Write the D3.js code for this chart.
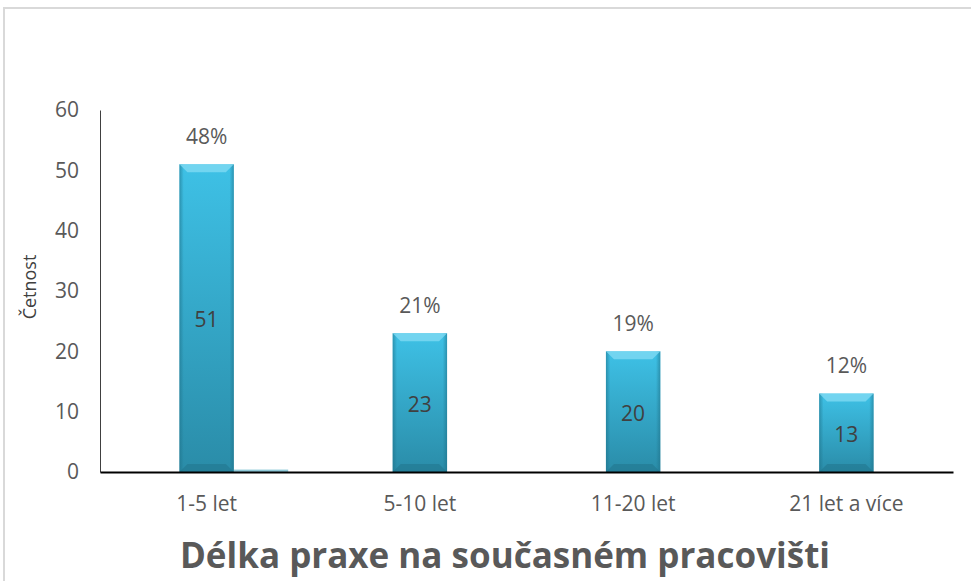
<!DOCTYPE html>
<html>
<head>
<meta charset="utf-8">
<script src="https://cdn.jsdelivr.net/npm/d3@7"></script>
<style>
  body { margin: 0; background: #fff; }
  svg text { font-family: "Open Sans", "Noto Sans", sans-serif; }
</style>
</head>
<body>
<svg id="chart" width="971" height="581"></svg>
<script>
const categories = ["1-5 let", "5-10 let", "11-20 let", "21 let a více"];
const counts = [51, 23, 20, 13];
const shares = ["48%", "21%", "19%", "12%"];
const secondSeries = [0.4, 0, 0, 0];
const yTicks = [0, 10, 20, 30, 40, 50, 60];

const margin = { top: 110, right: 18, bottom: 109, left: 100 };
const width = 971 - margin.left - margin.right;
const height = 581 - margin.top - margin.bottom;

const svg = d3.select("#chart");

// outer frame (only top/left visible in the crop)
svg.append("rect")
  .attr("x", 4).attr("y", 8)
  .attr("width", 1000).attr("height", 700)
  .attr("fill", "none")
  .attr("stroke", "#d9d9d9")
  .attr("stroke-width", 2);

const defs = svg.append("defs");
const grad = defs.append("linearGradient")
  .attr("id", "barFill").attr("x1", 0).attr("y1", 0).attr("x2", 0).attr("y2", 1);
grad.append("stop").attr("offset", "0%").attr("stop-color", "#3ec1e6");
grad.append("stop").attr("offset", "100%").attr("stop-color", "#2a8ca8");

const sideGrad = defs.append("linearGradient")
  .attr("id", "sideFill").attr("x1", 0).attr("y1", 0).attr("x2", 1).attr("y2", 0);
sideGrad.append("stop").attr("offset", "0%").attr("stop-color", "#1d6f86").attr("stop-opacity", 0.55);
sideGrad.append("stop").attr("offset", "8%").attr("stop-color", "#1d6f86").attr("stop-opacity", 0);
sideGrad.append("stop").attr("offset", "92%").attr("stop-color", "#1d6f86").attr("stop-opacity", 0);
sideGrad.append("stop").attr("offset", "100%").attr("stop-color", "#1d6f86").attr("stop-opacity", 0.55);

const g = svg.append("g")
  .attr("transform", `translate(${margin.left},${margin.top})`);

const x = d3.scaleBand().domain(categories).range([0, width]).padding(0);
const y = d3.scaleLinear().domain([0, 60]).range([height, 0]);
const barW = x.bandwidth() * 0.255;
const bev = 8;

const data = categories.map((c, i) => ({ cat: c, v: counts[i], share: shares[i], extra: secondSeries[i] }));

// y axis
const yAxis = g.append("g")
  .call(d3.axisLeft(y).tickValues(yTicks).tickSize(0).tickPadding(21));
yAxis.select(".domain").attr("stroke", "#404040").attr("stroke-width", 1);
yAxis.selectAll("text")
  .attr("fill", "#595959")
  .style("font-size", "21px");

// second series (tiny bar)
g.selectAll(".extra")
  .data(data)
  .enter()
  .append("rect")
  .attr("class", "extra")
  .attr("x", d => x(d.cat) + x.bandwidth() / 2 + barW / 2)
  .attr("y", d => y(d.extra))
  .attr("width", barW)
  .attr("height", d => y(0) - y(d.extra))
  .attr("fill", "#8fc9d8");

const bars = g.selectAll(".bar")
  .data(data)
  .enter()
  .append("g")
  .attr("class", "bar")
  .attr("transform", d => `translate(${x(d.cat) + x.bandwidth() / 2 - barW / 2},${y(d.v)})`);

bars.append("rect")
  .attr("width", barW)
  .attr("height", d => y(0) - y(d.v))
  .attr("fill", "url(#barFill)");

bars.append("rect")
  .attr("width", barW)
  .attr("height", d => y(0) - y(d.v))
  .attr("fill", "url(#sideFill)");

// top bevel
bars.append("path")
  .attr("d", `M0,0 L${barW},0 L${barW - bev},${bev} L${bev},${bev} Z`)
  .attr("fill", "#7fd9f2")
  .attr("opacity", 0.8);

// bottom bevel
bars.append("path")
  .attr("d", d => {
    const h = y(0) - y(d.v);
    return `M0,${h} L${barW},${h} L${barW - bev},${h - bev} L${bev},${h - bev} Z`;
  })
  .attr("fill", "#1f6f85")
  .attr("opacity", 0.45);

// values inside bars
bars.append("text")
  .attr("x", barW / 2)
  .attr("y", d => (y(0) - y(d.v)) / 2 + 2)
  .attr("dy", "0.35em")
  .attr("text-anchor", "middle")
  .attr("fill", "#404040")
  .style("font-size", "21px")
  .text(d => d.v);

// percentage labels above bars
g.selectAll(".share")
  .data(data)
  .enter()
  .append("text")
  .attr("class", "share")
  .attr("x", d => x(d.cat) + x.bandwidth() / 2)
  .attr("y", d => y(d.v) - 28)
  .attr("dy", "0.35em")
  .attr("text-anchor", "middle")
  .attr("fill", "#595959")
  .style("font-size", "21px")
  .text(d => d.share);

// x axis
const xAxis = g.append("g")
  .attr("transform", `translate(0,${height})`)
  .call(d3.axisBottom(x).tickSize(0).tickPadding(24));
xAxis.select(".domain").attr("stroke", "#000").attr("stroke-width", 2);
xAxis.selectAll("text")
  .attr("fill", "#595959")
  .style("font-size", "21px");

// y axis title
svg.append("text")
  .attr("transform", "translate(30,287) rotate(-90)")
  .attr("text-anchor", "middle")
  .attr("dy", "0.35em")
  .attr("fill", "#404040")
  .style("font-size", "18px")
  .text("Četnost");

// chart title
svg.append("text")
  .attr("x", 505)
  .attr("y", 568)
  .attr("text-anchor", "middle")
  .attr("fill", "#595959")
  .style("font-size", "35px")
  .style("font-weight", "bold")
  .text("Délka praxe na současném pracovišti");
</script>
</body>
</html>
